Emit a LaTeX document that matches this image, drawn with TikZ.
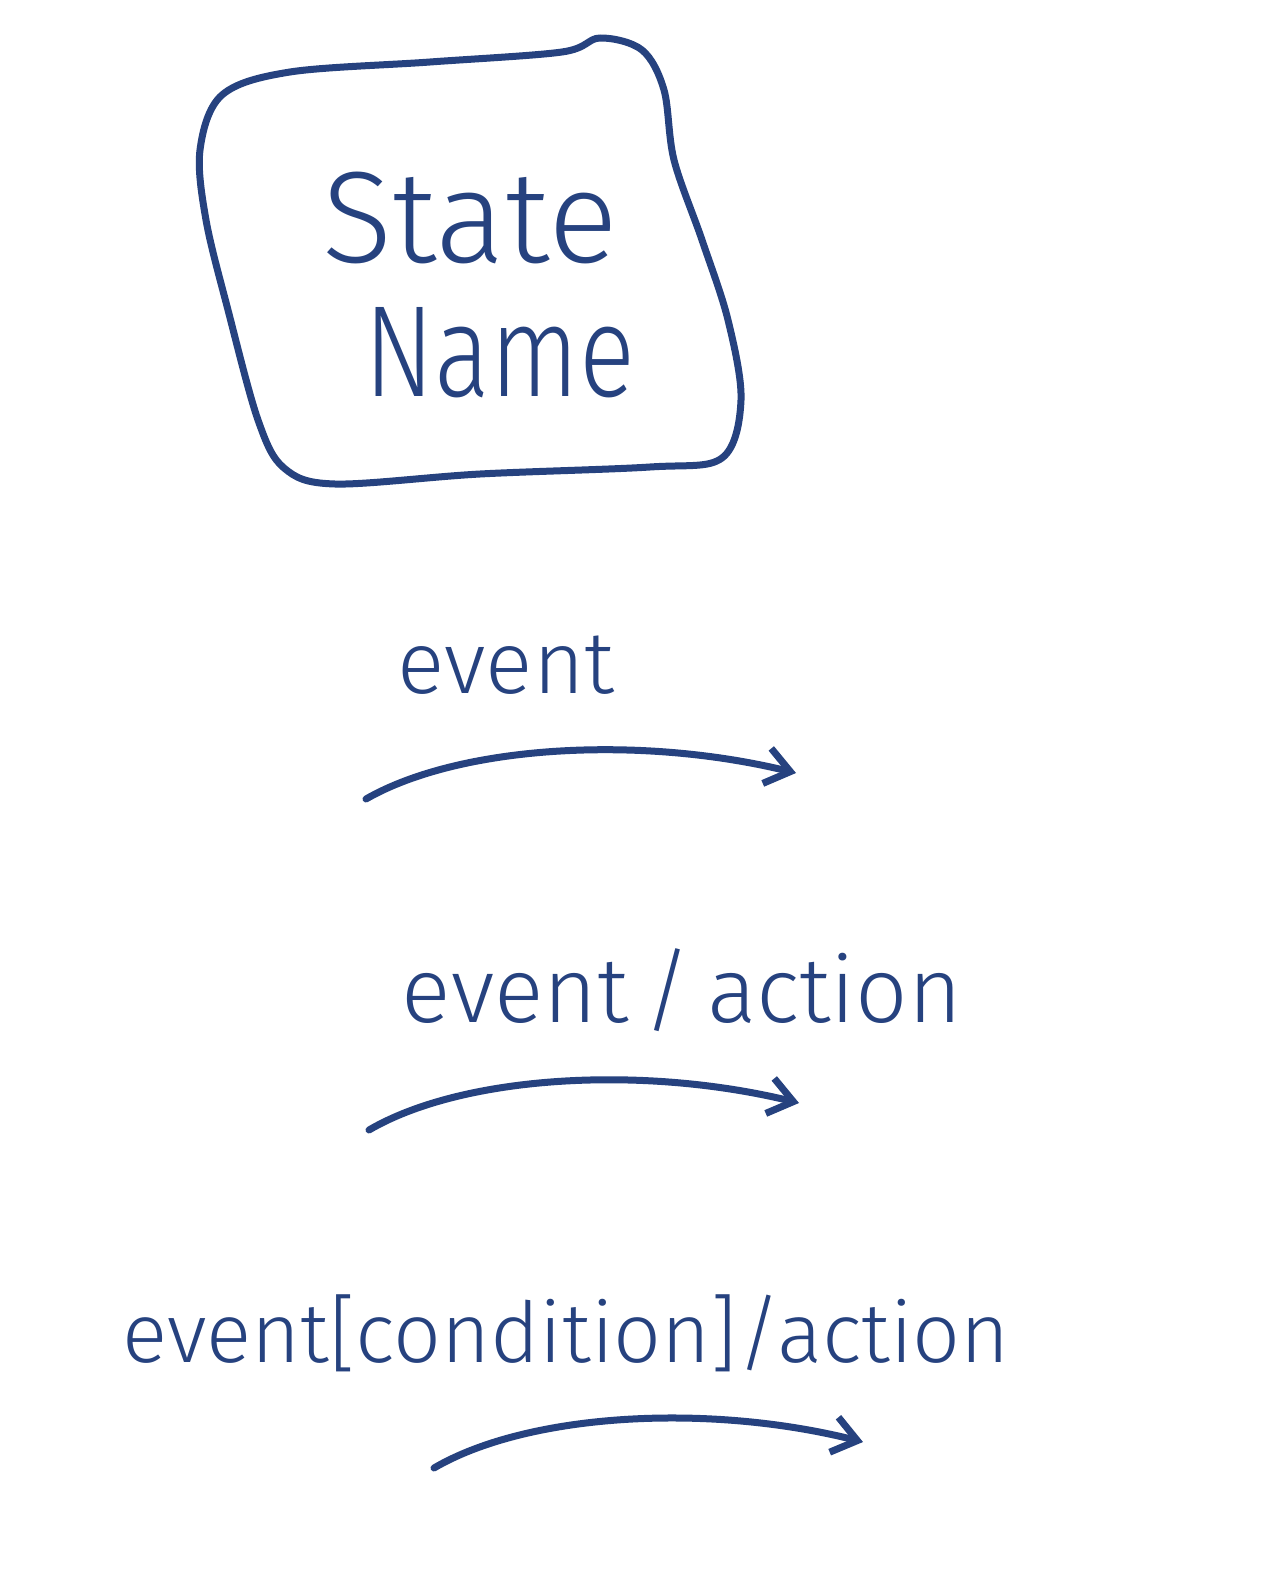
\documentclass[tikz,border=0pt]{standalone}
\usepackage{fontspec}
\setmainfont{Fira Sans Light}
\usetikzlibrary{arrows.meta}
\definecolor{ink}{HTML}{26427F}
\tikzset{
  pen/.style={draw=ink, line width=7pt, line cap=round, line join=round},
  lbl/.style={text=ink, inner sep=0pt, anchor=base},
  tip/.style={-{Straight Barb[length=24pt, width=36pt, line width=7pt]}}
}
\begin{document}
\begin{tikzpicture}[x=1pt, y=-1pt]
\useasboundingbox[fill=white] (0,0) rectangle (1272,1576);
% state box
\draw[pen] plot[smooth cycle, tension=0.55] coordinates {
  (290,72) (430,62) (562,52) (600,38) (642,50) (664,90) (674,160)
  (702,240) (728,320) (741,400) (722,458) (650,467) (480,474)
  (335,484) (284,468) (258,420) (228,310) (206,220) (200,150) (222,95)};
\node[lbl, font=\fontsize{130}{130}\selectfont] (st) at (470,262) {State};
\node[lbl, font=\fontsize{130}{130}\selectfont, xscale=0.8] (nm) at (500,396) {Name};
% transition 1
\node[lbl, font=\fontsize{88}{88}\selectfont] (l1) at (506,693) {event};
\coordinate (a1s) at (366,799);
\coordinate (a1e) at (796,773);
\draw[pen, tip] (a1s) .. controls (460,745) and (640,735) .. (a1e);
% transition 2
\node[lbl, font=\fontsize{92}{92}\selectfont] (l2) at (682,1022) {event\,/\,action};
\coordinate (a2s) at (369,1130);
\coordinate (a2e) at (799,1103);
\draw[pen, tip] (a2s) .. controls (463,1075) and (643,1065) .. (a2e);
% transition 3
\node[lbl, font=\fontsize{84}{84}\selectfont] (l3) at (566,1362) {event[condition]/action};
\coordinate (a3s) at (434,1468);
\coordinate (a3e) at (863,1442);
\draw[pen, tip] (a3s) .. controls (528,1413) and (708,1403) .. (a3e);
\end{tikzpicture}
\end{document}
